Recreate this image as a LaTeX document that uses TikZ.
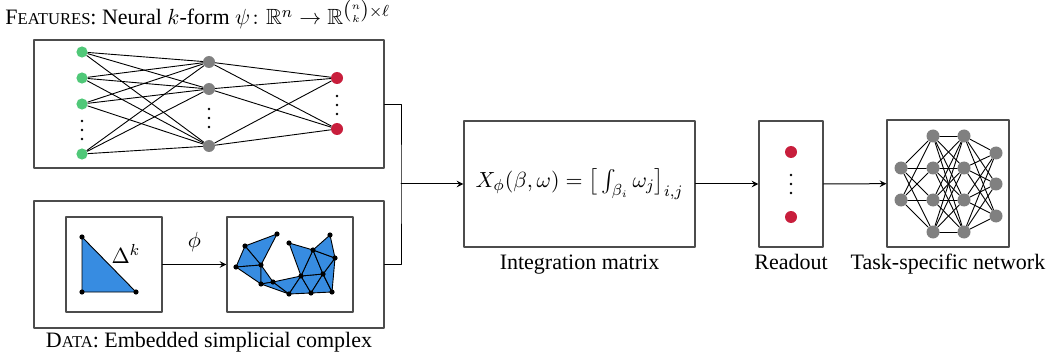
\documentclass[tikz,border=0pt]{standalone}
\usepackage{amsmath,amssymb}
\usepackage{fontspec}
\setmainfont{Liberation Serif}
\usetikzlibrary{arrows}
\definecolor{nodegreen}{RGB}{80,200,120}
\definecolor{nodered}{RGB}{200,30,60}
\definecolor{nodegray}{RGB}{128,128,128}
\definecolor{cplxblue}{RGB}{55,140,225}
\newcommand{\fakesc}[2]{#1{\fontsize{8.3}{10}\selectfont #2}}
\begin{document}
\begin{tikzpicture}[>=stealth,line join=round,line cap=round,x=0.5pt,y=-0.5pt,
	font=\fontsize{11}{13}\selectfont,
	panel/.style={draw=black!70,line width=0.6pt,inner sep=0pt},
	neuron/.style={circle,fill=#1,inner sep=0pt,minimum size=6pt},
	unit/.style={circle,fill=nodegray,inner sep=0pt,minimum size=6.5pt},
	wire/.style={line width=0.45pt,draw=black},
	flow/.style={->,line width=0.5pt,draw=black}]
	\useasboundingbox (0,0) rectangle (1050,358);
	% titles
	\node[anchor=base west,inner sep=0pt] (title) at (5,25) {\fakesc{F}{EATURES}: Neural $k$-form $\psi\colon \mathbb{R}^n \to \mathbb{R}^{\binom{n}{k}\times\ell}$};
	\node[anchor=base,inner sep=0pt] (datatitle) at (209,347) {\fakesc{D}{ATA}: Embedded simplicial complex};
	% panels
	\node[panel,minimum width=175pt,minimum height=64pt] (feat) at (209,104) {};
	\node[panel,minimum width=175pt,minimum height=63.5pt] (data) at (209,264.5) {};
	\node[panel,minimum width=48pt,minimum height=47.5pt] (simp) at (114,264.5) {};
	\node[panel,minimum width=63pt,minimum height=47.5pt] (cplx) at (290,264.5) {};
	\node[panel,minimum width=115.5pt,minimum height=63pt] (integ) at (579.5,184) {$X_\phi(\beta,\omega)=\big[\int_{\beta_i}\omega_j\big]_{i,j}$};
	\node[panel,minimum width=32pt,minimum height=63pt] (readout) at (791,184) {};
	\node[panel,minimum width=61pt,minimum height=63.5pt] (task) at (948,183.5) {};
	\node[anchor=base] (integlab) at (579.5,269) {Integration matrix};
	\node[anchor=base] (readlab) at (791,269) {Readout};
	\node[anchor=base] (tasklab) at (948,269) {Task-specific network};
	% neural k-form
	\foreach \i/\y in {1/52,2/78,3/104,4/154}
		\node[neuron=nodegreen,minimum size=5.6pt] (in\i) at (82,\y) {};
	\foreach \j/\y in {1/62,2/89,3/146}
		\node[neuron=nodegray] (hid\j) at (209,\y) {};
	\foreach \k/\y in {1/78,2/129}
		\node[neuron=nodered] (out\k) at (337,\y) {};
	\foreach \i in {1,...,4}
		\foreach \j in {1,2,3}
			\draw[wire] (in\i) -- (hid\j);
	\foreach \j in {1,2,3}
		\foreach \k in {1,2}
			\draw[wire] (hid\j) -- (out\k);
	\foreach \y in {121,130,139} \fill (82,\y) circle (0.7pt);
	\foreach \y in {109,118,127} \fill (209,\y) circle (0.7pt);
	\foreach \y in {96,105,114} \fill (337,\y) circle (0.7pt);
	% simplex
	\coordinate (s1) at (82,237);
	\coordinate (s2) at (82,292);
	\coordinate (s3) at (136,292);
	\filldraw[wire,fill=cplxblue] (s1) -- (s2) -- (s3) -- cycle;
	\foreach \p in {s1,s2,s3} \fill (\p) circle (1.3pt);
	\node (delta) at (126,254) {$\Delta^k$};
	\draw[flow] (simp) -- (cplx) node[midway,above=3pt] (phi) {$\phi$};
	% embedded complex
	\coordinate (a) at (277,234);
	\coordinate (b) at (245,246);
	\coordinate (c) at (236,267);
	\coordinate (d) at (261,265);
	\coordinate (e) at (261,284);
	\coordinate (f) at (273,282);
	\coordinate (g) at (289,294);
	\coordinate (h) at (289,243);
	\coordinate (i) at (313,250);
	\coordinate (j) at (330,235);
	\coordinate (k) at (335,258);
	\coordinate (l) at (301,276);
	\coordinate (m) at (323,274);
	\coordinate (n) at (311,293);
	\coordinate (o) at (332,292);
	\foreach \u/\v/\w in {b/a/d,b/c/d,c/d/e,d/e/f,e/f/g,f/l/g,g/l/n,l/n/m,n/m/o,m/o/k,l/m/i,i/m/k,i/j/k,h/i/l}
		\filldraw[wire,fill=cplxblue] (\u) -- (\v) -- (\w) -- cycle;
	\foreach \p in {a,b,c,d,e,f,g,h,i,j,k,l,m,n,o} \fill (\p) circle (1.3pt);
	% merge
	\coordinate (join) at (401,184);
	\draw[wire] (feat.east) -| (join) |- (data.east);
	\draw[flow] (join) -- (integ);
	\draw[flow] (integ) -- (readout);
	\draw[flow] (readout) -- (task);
	% readout
	\node[neuron=nodered] (r1) at (791,152) {};
	\node[neuron=nodered] (r2) at (791,217) {};
	\foreach \y in {175,184,193} \fill (791,\y) circle (0.7pt);
	% task-specific network
	\foreach \i/\y in {1/168,2/200}
		\node[unit] (la\i) at (901,\y) {};
	\foreach \i/\y in {1/136,2/168,3/200,4/232} {
		\node[unit] (lb\i) at (933,\y) {};
		\node[unit] (lc\i) at (964,\y) {};
	}
	\foreach \i/\y in {1/153,2/184,3/216}
		\node[unit] (ld\i) at (996,\y) {};
	\foreach \i in {1,2}
		\foreach \j in {1,...,4}
			\draw[wire] (la\i) -- (lb\j);
	\foreach \i in {1,...,4}
		\foreach \j in {1,...,4}
			\draw[wire] (lb\i) -- (lc\j);
	\foreach \i in {1,...,4}
		\foreach \j in {1,2,3}
			\draw[wire] (lc\i) -- (ld\j);
\end{tikzpicture}
\end{document}
